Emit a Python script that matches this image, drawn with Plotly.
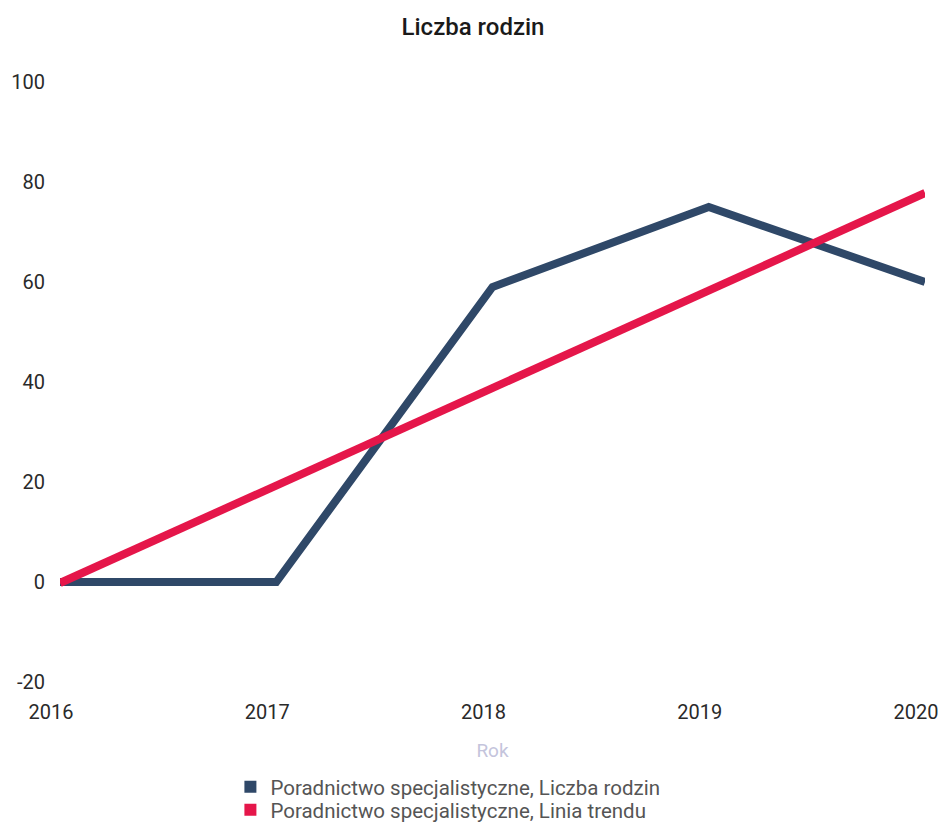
import plotly.graph_objects as go

years = [2016, 2017, 2018, 2019, 2020]
liczba_rodzin = [0, 0, 59, 75, 60]
linia_trendu = [-0.2, 19.3, 38.8, 58.3, 77.8]
y_ticks = [-20, 0, 20, 40, 60, 80, 100]
y_tick_labels = ["-20", "0", "20", "40", "60", "80", "100"]
x_tick_labels = ["2016", "2017", "2018", "2019", "2020"]

name1 = "Poradnictwo specjalistyczne, Liczba rodzin"
name2 = "Poradnictwo specjalistyczne, Linia trendu"
c1 = "#2F4868"
c2 = "#E5164A"

fig = go.Figure()
fig.add_trace(go.Scatter(x=years, y=liczba_rodzin, mode="lines", line=dict(color=c1, width=8),
                         showlegend=False, name=name1))
fig.add_trace(go.Scatter(x=years, y=linia_trendu, mode="lines", line=dict(color=c2, width=8),
                         showlegend=False, name=name2))
# legend entries with square markers
fig.add_trace(go.Scatter(x=[None], y=[None], mode="markers", name=name1, legend="legend",
                         marker=dict(symbol="square", size=12, color=c1)))
fig.add_trace(go.Scatter(x=[None], y=[None], mode="markers", name=name2, legend="legend2",
                         marker=dict(symbol="square", size=12, color=c2)))

font = "Roboto, Open Sans, DejaVu Sans, sans-serif"
W, H = 930, 817
leg_common = dict(orientation="v", x=0.197, xanchor="left", yanchor="middle",
                  yref="container",
                  font=dict(size=20.5, color="#555"), itemwidth=30,
                  bgcolor="rgba(0,0,0,0)")
fig.update_layout(
    width=W, height=H,
    margin=dict(l=52, r=W - 52 - 865, t=74, b=H - 74 - 600),
    paper_bgcolor="white", plot_bgcolor="white",
    title=dict(text="Liczba rodzin", x=0.5, xanchor="center", y=1 - 19 / H, yanchor="middle",
               font=dict(family=font, size=24, color="#1a1a1a", weight=500)),
    font=dict(family=font, color="#333"),
    xaxis=dict(range=[2016, 2020], tickvals=years, ticktext=x_tick_labels,
               showgrid=False, zeroline=False, showline=False, ticks="",
               automargin=False, ticklabelstandoff=16, ticklabelshift=-9,
               ticklabeloverflow="allow",
               tickfont=dict(size=20, color="#2a2a2a"),
               title=dict(text="Rok", font=dict(size=19, color="#c4c4dc"), standoff=20)),
    yaxis=dict(range=[-20, 100], tickvals=y_ticks, ticktext=y_tick_labels,
               showgrid=False, zeroline=False,
               showline=False, ticks="", ticklabelstandoff=14, automargin=False,
               tickfont=dict(size=20, color="#2a2a2a")),
    legend=dict(y=1 - 779 / H, **leg_common),
    legend2=dict(y=1 - 802 / H, **leg_common),
)

fig.write_html("out.html")
